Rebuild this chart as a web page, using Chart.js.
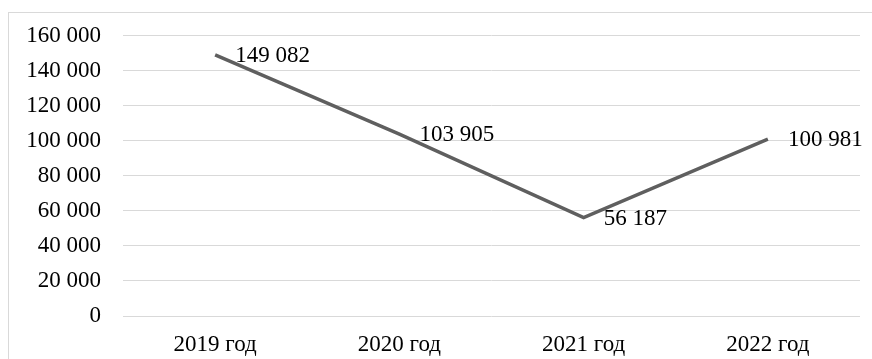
<!DOCTYPE html>
<html>
<head>
<meta charset="utf-8">
<script src="https://cdn.jsdelivr.net/npm/chart.js@4/dist/chart.umd.min.js"></script>
<style>
  body { margin: 0; background: #fff; }
  #frame { position: absolute; left: 8px; top: 12px; width: 880px; height: 380px; border: 1px solid #d9d9d9; }
  #wrap { position: absolute; left: 0; top: 0; width: 872px; height: 359px; }
</style>
</head>
<body>
<div id="frame"></div>
<div id="wrap"><canvas id="chart"></canvas></div>
<script>
const categories = ["2019 год", "2020 год", "2021 год", "2022 год"];
const values = [149082, 103905, 56187, 100981];
const yTicks = [0, 20000, 40000, 60000, 80000, 100000, 120000, 140000, 160000];

const FONT = "'Liberation Serif', 'Times New Roman', serif";

function fmt(v) {
  return String(v).replace(/\B(?=(\d{3})+(?!\d))/g, " ");
}

// labels to the right of each point
const pointLabels = {
  id: "pointLabels",
  afterDatasetsDraw(chart) {
    const ctx = chart.ctx;
    const meta = chart.getDatasetMeta(0);
    ctx.save();
    ctx.font = "23px " + FONT;
    ctx.fillStyle = "#000";
    ctx.textAlign = "left";
    ctx.textBaseline = "middle";
    meta.data.forEach((pt, i) => {
      ctx.fillText(fmt(values[i]), pt.x + 20, pt.y + 1);
    });
    ctx.restore();
  },
};

new Chart(document.getElementById("chart"), {
  type: "line",
  data: {
    labels: categories,
    datasets: [
      {
        data: values,
        borderColor: "#5f5f5f",
        borderWidth: 3.5,
        pointRadius: 0,
        tension: 0,
      },
    ],
  },
  options: {
    responsive: true,
    maintainAspectRatio: false,
    devicePixelRatio: 1,
    animation: { duration: 0 },
    layout: { padding: { top: 33, right: 12, left: 0, bottom: 0 } },
    plugins: { legend: { display: false }, tooltip: { enabled: false } },
    scales: {
      x: {
        offset: true,
        grid: { display: false, drawTicks: false },
        border: { display: false },
        ticks: { color: "#000", font: { family: FONT, size: 23 }, padding: 15, maxRotation: 0 },
        afterFit(scale) { scale.height = 43; },
      },
      y: {
        min: 0,
        max: 160000,
        afterBuildTicks(scale) { scale.ticks = yTicks.map((v) => ({ value: v })); },
        grid: { color: "#d9d9d9", lineWidth: 1, drawTicks: false },
        border: { display: false },
        ticks: { color: "#000", font: { family: FONT, size: 23 }, padding: 22, callback: (v) => fmt(v) },
        afterFit(scale) { scale.width = 123; },
      },
    },
  },
  plugins: [pointLabels],
});
</script>
</body>
</html>
